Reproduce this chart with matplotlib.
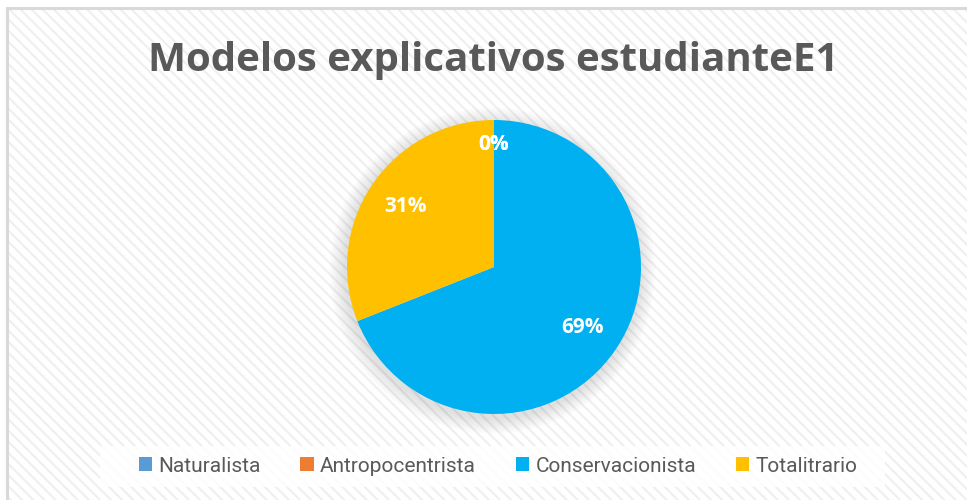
import matplotlib
matplotlib.use("Agg")
import matplotlib.pyplot as plt
from matplotlib.patches import Rectangle, Circle
from matplotlib.lines import Line2D
from matplotlib import font_manager

title = "Modelos explicativos estudianteE1"
categories = ["Naturalista", "Antropocentrista", "Conservacionista", "Totalitrario"]
values = [0, 0, 69, 31]
colors = ["#5B9BD5", "#ED7D31", "#00B0F0", "#FFC000"]

W, H = 967, 500
fig = plt.figure(figsize=(W / 100, H / 100), dpi=100)
fig.patch.set_facecolor("white")

# background with diagonal stripes
bg = fig.add_axes([0, 0, 1, 1])
bg.set_xlim(0, W)
bg.set_ylim(H, 0)
bg.axis("off")
plt.rcParams['hatch.linewidth'] = 1.5
bg.add_patch(Rectangle((7, 8), W, H, facecolor="white", edgecolor="#efefef", linewidth=0,
                       hatch="\\\\\\"))
bg.add_line(Line2D([7, 7], [8, H], color="#d9d9d9", lw=2.2))
bg.add_line(Line2D([7, W], [8, 8], color="#d9d9d9", lw=2.2))
# legend white box
bg.add_patch(Rectangle((100, 446), 785, 41, facecolor="white", edgecolor="none", alpha=0.85))

fams = [f.name for f in font_manager.fontManager.ttflist]
tfont = "Open Sans" if "Open Sans" in fams else "DejaVu Sans"
lfont = "Liberation Sans Narrow" if "Liberation Sans Narrow" in fams else "Roboto"

fig.text(493 / W, 1 - 60 / H, title, ha="center", va="center", fontsize=29,
         fontweight="bold", color="#595959", family=tfont)

# pie
R = 147
scale = 1.25
side = 2 * R * scale
cx, cy = 494, 267
ax = fig.add_axes([(cx - side / 2) / W, (H - cy - side / 2) / H, side / W, side / H])
ax.set_xlim(-scale, scale)
ax.set_ylim(-scale, scale)
ax.set_aspect("equal")
ax.axis("off")

# soft shadow
for i in range(10):
    r = 1.0 + 0.011 * (10 - i)
    ax.add_patch(Circle((-0.01, -0.025), r, facecolor="#000000", alpha=0.012, edgecolor="none"))

wedges, texts, autotexts = ax.pie(values, colors=colors, startangle=90, counterclock=False,
                                  autopct=lambda p: f"{p:.0f}%", pctdistance=0.73,
                                  radius=1.0,
                                  textprops=dict(color="white", fontsize=15, fontweight="bold",
                                                 family=tfont))
for v, t in zip(values, autotexts):
    if v == 0:
        x, y = t.get_position()
        t.set_position((x, 0.83))

# legend
handles = [Rectangle((0, 0), 1, 1, facecolor=c, edgecolor="none") for c in colors]
leg = fig.legend(handles, categories, loc="center", bbox_to_anchor=(498 / W, 1 - 466 / H),
                 ncol=4, frameon=False, handlelength=0.65, handleheight=0.65,
                 handletextpad=0.3, columnspacing=1.9, prop=dict(family=lfont, size=15))
for t in leg.get_texts():
    t.set_color("#595959")

fig.savefig("out.png", dpi=100, facecolor="white")
